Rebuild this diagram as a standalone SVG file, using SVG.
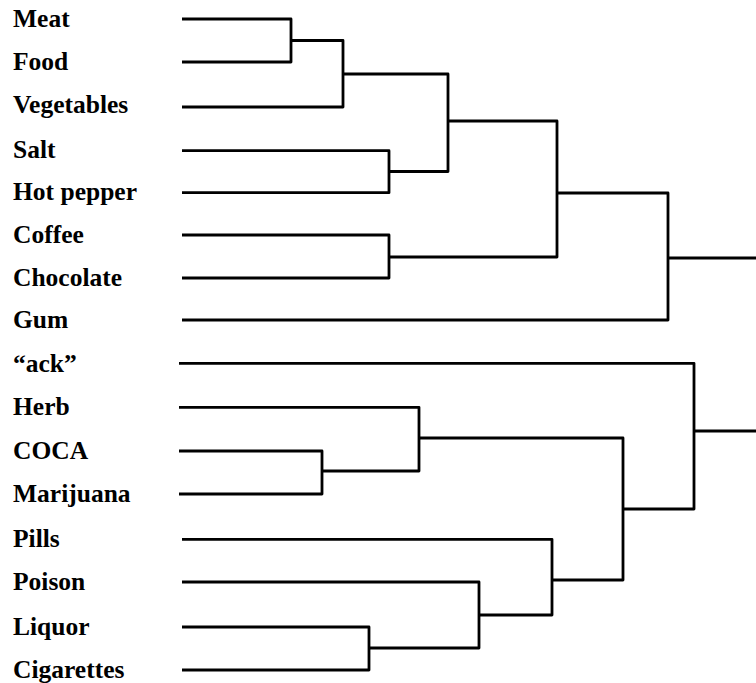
<svg xmlns="http://www.w3.org/2000/svg" width="756" height="683" viewBox="0 0 756 683">
<style>
.lbl{font-family:"Liberation Serif","Times New Roman",serif;font-weight:bold;font-size:25.5px;fill:#000}
.ln{fill:none;stroke:#000;stroke-width:2.8;stroke-linejoin:round}
</style>
<rect width="756" height="683" fill="#fff"/>
<g id="leaves">
<g id="n-meat"><text class="lbl" x="13" y="27">Meat</text></g>
<g id="n-food"><text class="lbl" x="13" y="70">Food</text></g>
<g id="n-vegetables"><text class="lbl" x="13" y="113">Vegetables</text></g>
<g id="n-salt"><text class="lbl" x="13" y="158">Salt</text></g>
<g id="n-hotpepper"><text class="lbl" x="13" y="200">Hot pepper</text></g>
<g id="n-coffee"><text class="lbl" x="13" y="243">Coffee</text></g>
<g id="n-chocolate"><text class="lbl" x="13" y="286">Chocolate</text></g>
<g id="n-gum"><text class="lbl" x="13" y="328">Gum</text></g>
<g id="n-ack"><text class="lbl" x="13" y="372">“ack”</text></g>
<g id="n-herb"><text class="lbl" x="13" y="415">Herb</text></g>
<g id="n-coca"><text class="lbl" x="13" y="459">COCA</text></g>
<g id="n-marijuana"><text class="lbl" x="13" y="502">Marijuana</text></g>
<g id="n-pills"><text class="lbl" x="13" y="547">Pills</text></g>
<g id="n-poison"><text class="lbl" x="13" y="590">Poison</text></g>
<g id="n-liquor"><text class="lbl" x="13" y="635">Liquor</text></g>
<g id="n-cigarettes"><text class="lbl" x="13" y="678">Cigarettes</text></g>
</g>
<g id="connectors">
<path class="ln" d="M182 19 H291 V62 H182"/>
<path class="ln" d="M291 40.5 H343 V107 H182"/>
<path class="ln" d="M182 150.7 H389 V192.7 H182"/>
<path class="ln" d="M343 74 H448 V171.5 H389"/>
<path class="ln" d="M182 235 H389 V278 H182"/>
<path class="ln" d="M448 121 H557 V257 H389"/>
<path class="ln" d="M557 193 H668 V320 H182"/>
<path class="ln" d="M668 258 H756"/>
<path class="ln" d="M179 451 H322 V494 H179"/>
<path class="ln" d="M179 407.3 H419 V471 H322"/>
<path class="ln" d="M182 627 H369 V670 H182"/>
<path class="ln" d="M182 582 H479 V648 H369"/>
<path class="ln" d="M182 539.3 H552 V615 H479"/>
<path class="ln" d="M419 438 H623 V580 H552"/>
<path class="ln" d="M179 363.3 H694 V509 H623"/>
<path class="ln" d="M694 431 H756"/>
</g>
</svg>
